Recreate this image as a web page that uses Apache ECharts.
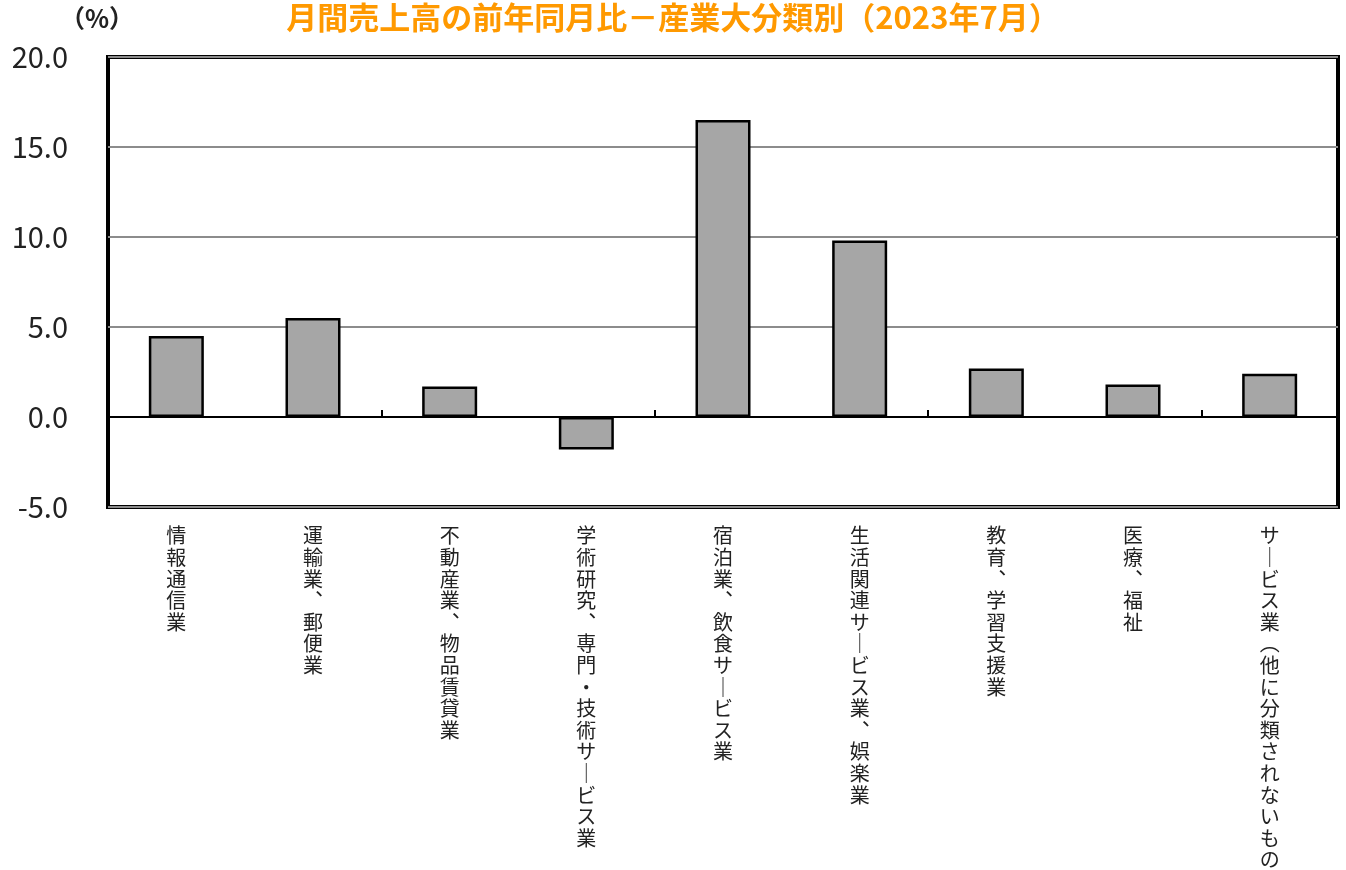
<!DOCTYPE html>
<html><head><meta charset="utf-8">
<script src="https://cdn.jsdelivr.net/npm/echarts@6/dist/echarts.min.js"></script>
<style>html,body{margin:0;padding:0;background:#fff}#c{width:1346px;height:870px}</style>
</head><body><div id="c"></div>
<script>
const titleText = '月間売上高の前年同月比－産業大分類別（2023年7月）';
const unitText = '（%）';
const categories = ['情報通信業','運輸業、郵便業','不動産業、物品賃貸業','学術研究、専門・技術サービス業','宿泊業、飲食サービス業','生活関連サービス業、娯楽業','教育、学習支援業','医療、福祉','サービス業（他に分類されないもの）'];
const values = [4.5, 5.5, 1.7, -1.8, 16.5, 9.8, 2.7, 1.8, 2.4];
const yTicks = {min: -5, max: 20, interval: 5};

const FONT = '"Noto Sans CJK JP", "Noto Sans", sans-serif';
const vmap = {'ー':'｜','、':'︑','（':'︵','）':'︶'};
function vertical(s){ return Array.from(s).map(c => vmap[c] || c).join('\n'); }

const chart = echarts.init(document.getElementById('c'));
chart.setOption({
  animation: false,
  backgroundColor: '#fff',
  title: {text: titleText, left: 'center', top: -3, textStyle: {color: '#FF9900', fontSize: 31, fontWeight: 'bold', fontFamily: FONT}},
  graphic: [{type: 'text', left: 60, top: 6, style: {text: unitText, fontSize: 25, fontWeight: 'bold', fontFamily: FONT, fill: '#222'}}],
  grid: {left: 108, right: 8, top: 57, bottom: 363, outerBoundsMode: 'none', containLabel: false,
    show: true, borderColor: '#000', borderWidth: 4, backgroundColor: 'transparent'},
  xAxis: [
    {type: 'category', data: categories, boundaryGap: true,
     axisLine: {onZero: true, lineStyle: {color: '#000', width: 2}},
     axisTick: {show: true, inside: true, length: 7, lineStyle: {color: '#000', width: 2}},
     axisLabel: {show: false}, splitLine: {show: false}, z: 5},
    {type: 'category', data: categories, position: 'bottom', boundaryGap: true,
     axisLine: {show: false, onZero: false}, axisTick: {show: false},
     axisLabel: {show: true, margin: 18, interval: 0, color: '#222', fontSize: 20, lineHeight: 21.6, fontFamily: FONT,
       verticalAlign: 'top', formatter: v => vertical(v)}}
  ],
  yAxis: {type: 'value', min: yTicks.min, max: yTicks.max, interval: yTicks.interval,
    axisLine: {show: false}, axisTick: {show: false},
    axisLabel: {margin: 40, color: '#222', fontSize: 29, fontFamily: FONT,
      formatter: v => v.toFixed(1)},
    splitLine: {show: true, lineStyle: {color: '#8c8c8c', width: 2}}},
  series: [{type: 'bar', data: values, xAxisIndex: 0, barWidth: 55,
    itemStyle: {color: '#a6a6a6', borderColor: '#000', borderWidth: 2.5}}]
});
</script></body></html>
